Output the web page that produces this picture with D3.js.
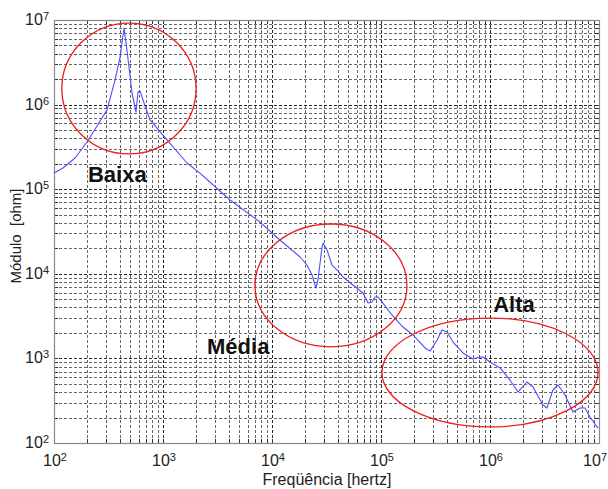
<!DOCTYPE html>
<html>
<head>
<meta charset="utf-8">
<script src="https://cdn.jsdelivr.net/npm/d3@7"></script>
<style>
  html, body { margin: 0; padding: 0; background: #fff; }
  svg { display: block; }
  text { font-family: "Liberation Sans", Arial, sans-serif; }
</style>
</head>
<body>
<div id="chart"></div>
<script>
// Impedance magnitude vs. frequency (log-log)
const freqHz = [
  100, 121, 156, 201, 306, 363, 404, 439, 467, 520, 565, 590, 615, 656, 760,
  1089, 1660, 2183, 4118, 7762, 11800, 18100, 20900, 23300, 25300, 26400,
  28800, 29400, 32000, 35500, 39500, 44800, 55300, 68400, 76000, 82600,
  88100, 93800, 102000, 126000, 159000, 197000, 254000, 282000, 327000,
  363000, 404000, 458000, 565000, 698000, 809000, 863000, 1000000, 1240000,
  1520000, 1810000, 2180000, 2480000, 3060000, 3330000, 3780000, 4210000,
  4880000, 5770000, 6700000, 7440000, 8260000, 9790000
];
const impedanceOhm = [
  155000, 178000, 234000, 361000, 863000, 1950000, 3650000, 8040000, 4420000,
  1370000, 818000, 1410000, 1450000, 1130000, 658000, 382000, 204000, 155000,
  74500, 40900, 25100, 15800, 12700, 9680, 6790, 8450, 20800, 23100, 19100,
  12700, 11100, 9160, 7380, 5930, 4520, 4650, 5320, 5320, 4650, 3260, 2350,
  1890, 1330, 1220, 1650, 2170, 2050, 1560, 1160, 984, 1040, 1040, 906, 771,
  556, 401, 526, 459, 281, 259, 423, 485, 369, 232, 259, 259, 203, 150
];

// Axis decades (exponents of 10)
const xDecades = [2, 3, 4, 5, 6, 7];
const yDecades = [2, 3, 4, 5, 6, 7];

// Frequency bands: bounds in data space and label anchor
const bandNames = ["Baixa", "Média", "Alta"];
const bandFreqRange = [[118, 2010], [6980, 173000], [102000, 9800000]];
const bandZRange = [[261000, 9200000], [1370, 38800], [155, 3000]];
const bandLabelAt = [[205, 122000], [2535, 1127], [1070000, 3530]];

const xTitle = "Freqüência [hertz]";
const yTitle = "Módulo  [ohm]";

const W = 608, H = 489;
const plot = { left: 54, right: 599, top: 20, bottom: 443 };

const svg = d3.select("#chart").append("svg")
  .attr("width", W).attr("height", H);

const x = d3.scaleLog().domain([1e2, 1e7]).range([plot.left, plot.right]);
const y = d3.scaleLog().domain([1e2, 1e7]).range([plot.bottom, plot.top]);

// Grid values: every 1..9 x decade
function logGrid(decs) {
  const out = [];
  for (let i = 0; i < decs.length - 1; i++) {
    for (let m = 1; m <= 9; m++) out.push({ v: m * Math.pow(10, decs[i]), major: m === 1 });
  }
  out.push({ v: Math.pow(10, decs[decs.length - 1]), major: true });
  return out;
}
const xGrid = logGrid(xDecades);
const yGrid = logGrid(yDecades);

const px = v => Math.round(v) + 0.5;

const grid = svg.append("g").attr("shape-rendering", "crispEdges");
grid.selectAll("line.vx").data(xGrid.filter(d => d.v > 1e2 && d.v < 1e7)).join("line")
  .attr("class", "vx")
  .attr("x1", d => px(x(d.v))).attr("x2", d => px(x(d.v)))
  .attr("y1", plot.top).attr("y2", plot.bottom)
  .attr("stroke", d => d.major ? "#111" : "#333")
  .attr("stroke-opacity", d => d.major ? 0.9 : 0.75)
  .attr("stroke-dasharray", "3,2");
grid.selectAll("line.hy").data(yGrid.filter(d => d.v > 1e2 && d.v < 1e7)).join("line")
  .attr("class", "hy")
  .attr("y1", d => px(y(d.v))).attr("y2", d => px(y(d.v)))
  .attr("x1", plot.left).attr("x2", plot.right)
  .attr("stroke", d => d.major ? "#111" : "#333")
  .attr("stroke-opacity", d => d.major ? 0.9 : 0.75)
  .attr("stroke-dasharray", "3,2");

// Axes (ticks inside, no default labels)
function styleAxis(g) {
  g.select(".domain").remove();
  g.selectAll(".tick line").attr("stroke", "#333").attr("shape-rendering", "crispEdges");
}
svg.append("g").attr("transform", `translate(0,${plot.bottom})`)
  .call(d3.axisBottom(x).tickValues(xGrid.map(d => d.v)).tickSize(-4).tickFormat("")).call(styleAxis);
svg.append("g").attr("transform", `translate(${plot.left},0)`)
  .call(d3.axisLeft(y).tickValues(yGrid.map(d => d.v)).tickSize(-4).tickFormat("")).call(styleAxis);
svg.append("g").attr("transform", `translate(0,${plot.top})`)
  .call(d3.axisTop(x).tickValues(xGrid.map(d => d.v)).tickSize(-4).tickFormat("")).call(styleAxis);
svg.append("g").attr("transform", `translate(${plot.right},0)`)
  .call(d3.axisRight(y).tickValues(yGrid.map(d => d.v)).tickSize(-4).tickFormat("")).call(styleAxis);

// Plot frame
svg.append("rect")
  .attr("x", plot.left + 0.5).attr("y", plot.top + 0.5)
  .attr("width", plot.right - plot.left).attr("height", plot.bottom - plot.top)
  .attr("fill", "none").attr("stroke", "#8a8a8a").attr("stroke-width", 1.2);

// Decade labels as 10 with superscript exponent
function powLabel(sel) {
  sel.append("tspan").text("10");
  sel.append("tspan").attr("dy", "-0.45em").attr("font-size", "11px").text(d => d);
}
const lastX = xDecades[xDecades.length - 1];
svg.append("g").selectAll("text").data(xDecades).join("text")
  .attr("x", d => d === lastX ? W - 1 : x(Math.pow(10, d)) + 1)
  .attr("y", 466)
  .attr("text-anchor", d => d === lastX ? "end" : "middle")
  .attr("font-size", "16px").attr("fill", "#222")
  .call(powLabel);
svg.append("g").selectAll("text").data(yDecades).join("text")
  .attr("x", 49)
  .attr("y", d => y(Math.pow(10, d)) + 5)
  .attr("text-anchor", "end")
  .attr("font-size", "16px").attr("fill", "#222")
  .call(powLabel);

// Axis titles
svg.append("text")
  .attr("x", 327).attr("y", 485)
  .attr("text-anchor", "middle")
  .attr("font-size", "16px").attr("fill", "#222")
  .text(xTitle);
svg.append("text")
  .attr("transform", "translate(21,236) rotate(-90)")
  .attr("text-anchor", "middle")
  .attr("font-size", "15px").attr("fill", "#222")
  .style("white-space", "pre")
  .text(yTitle);

// Measured curve
const pts = freqHz.map((f, i) => [f, impedanceOhm[i]]);
const line = d3.line().x(d => x(d[0])).y(d => y(d[1]));
svg.append("path")
  .datum(pts)
  .attr("d", line)
  .attr("fill", "none")
  .attr("stroke", "#4d4dff")
  .attr("stroke-width", 1.1)
  .attr("stroke-linejoin", "round");

// Band ellipses
const bands = bandNames.map((name, i) => ({
  name, fr: bandFreqRange[i], zr: bandZRange[i], at: bandLabelAt[i]
}));
svg.append("g").selectAll("ellipse").data(bands).join("ellipse")
  .attr("cx", d => (x(d.fr[0]) + x(d.fr[1])) / 2)
  .attr("cy", d => (y(d.zr[0]) + y(d.zr[1])) / 2)
  .attr("rx", d => Math.abs(x(d.fr[1]) - x(d.fr[0])) / 2)
  .attr("ry", d => Math.abs(y(d.zr[0]) - y(d.zr[1])) / 2)
  .attr("fill", "none")
  .attr("stroke", "#ee1c1c")
  .attr("stroke-width", 1.3);

svg.append("g").selectAll("text").data(bands).join("text")
  .attr("x", d => x(d.at[0]))
  .attr("y", d => y(d.at[1]))
  .attr("font-size", "22px")
  .attr("font-weight", "bold")
  .attr("fill", "#111")
  .text(d => d.name);
</script>
</body>
</html>
